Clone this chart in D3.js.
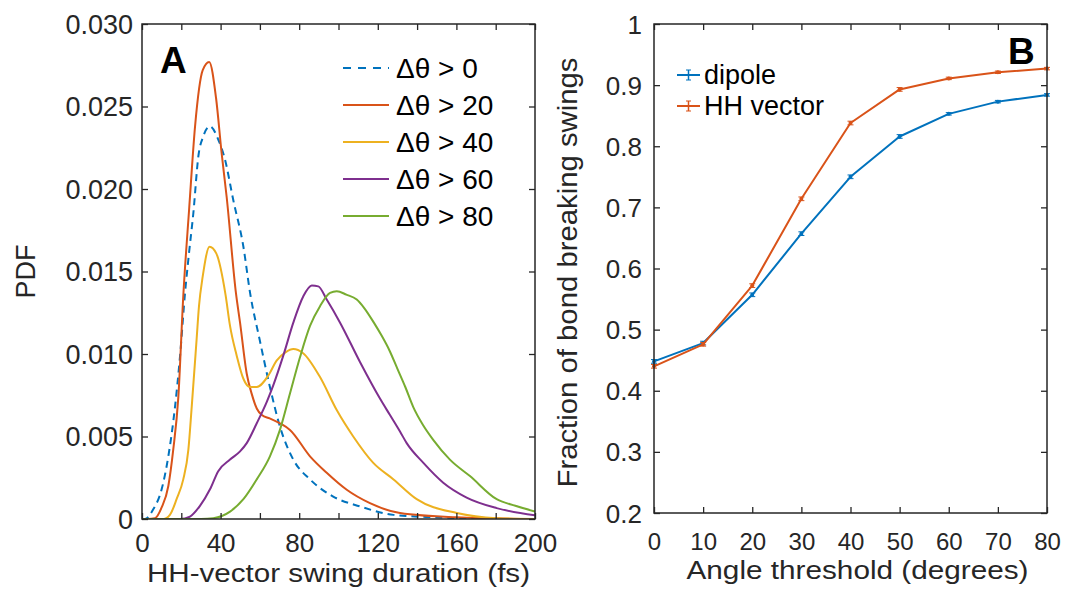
<!DOCTYPE html>
<html>
<head>
<meta charset="utf-8">
<script src="https://cdn.jsdelivr.net/npm/d3@7"></script>
<style>
  html, body { margin: 0; padding: 0; background: #fff; }
  svg { display: block; font-family: "Liberation Sans", Arial, Helvetica, sans-serif; }
</style>
</head>
<body>
<svg id="chart" width="1067" height="589"></svg>
<script>
// ---------------- Data: panel A (PDF of HH-vector swing duration) ----------------
const seriesLabelsA = ["Δθ > 0", "Δθ > 20", "Δθ > 40", "Δθ > 60", "Δθ > 80"];
const pdfGt0 = [[0,0],[1.5,0],[5.8,0.0006],[10,0.0018],[13.4,0.0038],[16.8,0.0068],[19.3,0.0098],[21.9,0.0137],[24,0.0162],[26.1,0.0185],[28.7,0.022],[31.2,0.0232],[34.6,0.0238],[38.8,0.023],[42.2,0.0218],[46.5,0.0193],[51.6,0.0165],[55,0.0137],[60,0.0108],[65.1,0.008],[70.2,0.0056],[77,0.0036],[85.5,0.0024],[97.3,0.00136],[111,0.00076],[128,0.00025],[150,0.0001],[170,0.00002],[200,0]];
const pdfGt20 = [[0,0],[3,0],[6.6,0.00005],[10,0.0007],[13.4,0.002],[15.9,0.0042],[18.5,0.0074],[21,0.0135],[24,0.0188],[27,0.0238],[30.9,0.0272],[34.2,0.0277],[37.7,0.0255],[40.5,0.0222],[43.1,0.0195],[47.8,0.0137],[49.9,0.0119],[53.3,0.0088],[55.8,0.0076],[58.4,0.0067],[61,0.0063],[65,0.0061],[70.2,0.0058],[75.3,0.0054],[85.5,0.0038],[94,0.0028],[104.2,0.00177],[116,0.00096],[131.3,0.00036],[160,0.0001],[200,0]];
const pdfGt40 = [[0,0],[10.9,0],[14.2,0.00025],[17.6,0.0012],[21,0.0024],[23.6,0.0042],[25.3,0.0068],[27.8,0.0109],[29,0.0129],[30.9,0.0147],[34.4,0.0165],[37.8,0.0161],[42.5,0.0136],[44.8,0.0117],[48.2,0.0099],[51.6,0.0085],[55,0.008],[58.4,0.008],[64.3,0.0087],[68.5,0.0096],[73,0.0101],[77,0.0103],[82,0.01005],[90.6,0.0086],[99.1,0.0066],[107.5,0.005],[117.7,0.0034],[128,0.0024],[139.8,0.0012],[160.2,0.00036],[180.5,0.00005],[200,0]];
const pdfGt60 = [[0,0],[19.3,0],[24.4,0.00015],[29.5,0.0008],[34.6,0.0018],[38.8,0.0029],[44.8,0.0036],[49.9,0.0041],[53.3,0.0046],[58.4,0.0058],[63.5,0.0071],[66.8,0.0081],[71.9,0.0099],[77,0.0119],[82.1,0.0135],[86.4,0.01415],[89.7,0.0141],[94,0.0133],[100.8,0.0119],[111,0.0095],[121.1,0.0073],[126.2,0.0063],[131.3,0.0053],[134.7,0.0046],[143.2,0.0034],[153.3,0.0022],[165.2,0.0013],[180.5,0.00066],[200,0.00022]];
const pdfGt80 = [[0,0],[30,0],[36.3,0.00005],[44.8,0.00045],[51.6,0.0012],[58.4,0.0024],[65.1,0.0038],[70.2,0.0054],[75.3,0.0076],[80.4,0.0098],[85.5,0.0117],[90.6,0.0129],[95.7,0.0137],[99.1,0.0138],[104,0.0136],[109.3,0.0133],[113,0.0128],[118,0.0119],[122,0.0111],[126,0.0102],[130,0.0091],[134,0.008],[138,0.0068],[143,0.0057],[148.2,0.0048],[156.7,0.0036],[166.9,0.0026],[180.5,0.0012],[190,0.0008],[200,0.00045]];
const durationTicks = [0,20,40,60,80,100,120,140,160,180,200];
const durationTickLabels = ["0","","40","","80","","120","","160","","200"];
const pdfTicks = [0,0.005,0.010,0.015,0.020,0.025,0.030];
const pdfTickLabels = ["0","0.005","0.010","0.015","0.020","0.025","0.030"];

// ---------------- Data: panel B (fraction of bond breaking swings) ----------------
const angleThresholds = [0,10,20,30,40,50,60,70,80];
const dipoleFraction = [0.448,0.478,0.557,0.657,0.750,0.816,0.853,0.873,0.884];
const hhFraction     = [0.440,0.476,0.572,0.714,0.838,0.893,0.911,0.921,0.927];
const dipoleErr = [0.003,0.003,0.003,0.003,0.003,0.003,0.002,0.002,0.002];
const hhErr     = [0.003,0.003,0.003,0.003,0.003,0.003,0.002,0.002,0.002];
const seriesLabelsB = ["dipole", "HH vector"];
const fractionTicks = [0.2,0.3,0.4,0.5,0.6,0.7,0.8,0.9,1];
const fractionTickLabels = ["0.2","0.3","0.4","0.5","0.6","0.7","0.8","0.9","1"];

// ---------------- Styles ----------------
const colors = ["#0072BD", "#D95319", "#EDB120", "#7E2F8E", "#77AC30"];
const axisColor = "#262626";

const svg = d3.select("#chart");
svg.append("rect").attr("width", 1067).attr("height", 589).attr("fill", "#fff");

// ---------------- Panel A ----------------
const A = { left: 142, right: 535, top: 24, bottom: 519 };
const xA = d3.scaleLinear().domain([0, 200]).range([A.left, A.right]);
const yA = d3.scaleLinear().domain([0, 0.030]).range([A.bottom, A.top]);

svg.append("clipPath").attr("id", "clipA").append("rect")
  .attr("x", A.left).attr("y", A.top - 1).attr("width", A.right - A.left).attr("height", A.bottom - A.top + 1);

const lineA = d3.line().x(d => xA(d[0])).y(d => yA(d[1])).curve(d3.curveMonotoneX);
const seriesA = [pdfGt0, pdfGt20, pdfGt40, pdfGt60, pdfGt80];
const gA = svg.append("g").attr("clip-path", "url(#clipA)");
seriesA.forEach((s, i) => {
  gA.append("path").datum(s).attr("d", lineA)
    .attr("fill", "none").attr("stroke", colors[i]).attr("stroke-width", 2)
    .attr("stroke-linejoin", "round")
    .attr("stroke-dasharray", i === 0 ? "7,5" : null);
});

function boxAxes(x, y, box, xTicks, xLabels, yTicks, yLabels, opt) {
  const g = svg.append("g");
  const tickLen = 6;
  const bottom = d3.axisBottom(x).tickValues(xTicks).tickSizeInner(-tickLen).tickSizeOuter(0)
    .tickFormat((d, i) => xLabels[i]);
  const gb = g.append("g").attr("transform", `translate(0,${box.bottom})`).call(bottom);
  gb.selectAll("text").attr("y", opt.xTickBase - box.bottom).attr("dy", 0)
    .style("font-size", opt.xTickSize + "px");
  const top = d3.axisTop(x).tickValues(xTicks).tickSizeInner(-tickLen).tickSizeOuter(0).tickFormat("");
  g.append("g").attr("transform", `translate(0,${box.top})`).call(top);
  const left = d3.axisLeft(y).tickValues(yTicks).tickSizeInner(-tickLen).tickSizeOuter(0)
    .tickFormat((d, i) => yLabels[i]);
  const gl = g.append("g").attr("transform", `translate(${box.left},0)`).call(left);
  gl.selectAll("text").attr("x", -opt.yTickGap).attr("dy", "0.35em")
    .style("font-size", opt.yTickSize + "px");
  const right = d3.axisRight(y).tickValues(yTicks).tickSizeInner(-tickLen).tickSizeOuter(0).tickFormat("");
  g.append("g").attr("transform", `translate(${box.right},0)`).call(right);
  g.selectAll(".domain").remove();
  g.selectAll("line").attr("stroke", axisColor).attr("stroke-width", 1.3);
  g.selectAll("text").attr("fill", axisColor).style("font-family", "'Liberation Sans', Arial, sans-serif");
  g.append("rect").attr("x", box.left).attr("y", box.top)
    .attr("width", box.right - box.left).attr("height", box.bottom - box.top)
    .attr("fill", "none").attr("stroke", axisColor).attr("stroke-width", 1.5);
}

boxAxes(xA, yA, A, durationTicks, durationTickLabels, pdfTicks, pdfTickLabels,
  { xTickBase: 552, xTickSize: 26, yTickGap: 9, yTickSize: 27 });

svg.append("text").attr("x", (A.left + A.right) / 2).attr("y", 582)
  .attr("text-anchor", "middle").attr("fill", axisColor).style("font-size", "25.5px")
  .attr("textLength", 383).attr("lengthAdjust", "spacingAndGlyphs")
  .text("HH-vector swing duration (fs)");
svg.append("text").attr("transform", `translate(35,${(A.top + A.bottom) / 2}) rotate(-90)`)
  .attr("text-anchor", "middle").attr("fill", axisColor).style("font-size", "27px")
  .text("PDF");

svg.append("text").attr("x", 160).attr("y", 73).attr("font-weight", "bold")
  .style("font-size", "37px").attr("fill", "#000").text("A");

const legA = svg.append("g");
seriesLabelsA.forEach((lab, i) => {
  const cy = 68 + i * 37;
  legA.append("line").attr("x1", 343).attr("x2", 389).attr("y1", cy).attr("y2", cy)
    .attr("stroke", colors[i]).attr("stroke-width", 2)
    .attr("stroke-dasharray", i === 0 ? "8,7" : null);
  legA.append("text").attr("x", 396).attr("y", cy).attr("dy", "0.35em")
    .attr("fill", "#000").style("font-size", "28px").text(lab);
});

// ---------------- Panel B ----------------
const B = { left: 654, right: 1047, top: 24, bottom: 513 };
const xB = d3.scaleLinear().domain([0, 80]).range([B.left, B.right]);
const yB = d3.scaleLinear().domain([0.2, 1]).range([B.bottom, B.top]);

const lineB = d3.line().x(d => xB(d.x)).y(d => yB(d.y));
const seriesB = [
  angleThresholds.map((a, i) => ({ x: a, y: dipoleFraction[i], e: dipoleErr[i] })),
  angleThresholds.map((a, i) => ({ x: a, y: hhFraction[i], e: hhErr[i] }))
];
const gB = svg.append("g");
seriesB.forEach((s, k) => {
  const c = colors[k];
  gB.append("path").datum(s).attr("d", lineB).attr("fill", "none")
    .attr("stroke", c).attr("stroke-width", 2).attr("stroke-linejoin", "round");
  const eb = gB.append("g").selectAll("g").data(s).join("g");
  eb.append("line").attr("x1", d => xB(d.x)).attr("x2", d => xB(d.x))
    .attr("y1", d => yB(d.y - d.e)).attr("y2", d => yB(d.y + d.e))
    .attr("stroke", c).attr("stroke-width", 1.5);
  eb.append("line").attr("x1", d => xB(d.x) - 3).attr("x2", d => xB(d.x) + 3)
    .attr("y1", d => yB(d.y + d.e)).attr("y2", d => yB(d.y + d.e)).attr("stroke", c).attr("stroke-width", 1);
  eb.append("line").attr("x1", d => xB(d.x) - 3).attr("x2", d => xB(d.x) + 3)
    .attr("y1", d => yB(d.y - d.e)).attr("y2", d => yB(d.y - d.e)).attr("stroke", c).attr("stroke-width", 1);
  eb.append("circle").attr("cx", d => xB(d.x)).attr("cy", d => yB(d.y)).attr("r", 2).attr("fill", c);
});

boxAxes(xB, yB, B, angleThresholds, angleThresholds.map(String), fractionTicks, fractionTickLabels,
  { xTickBase: 550, xTickSize: 24, yTickGap: 12, yTickSize: 26 });

svg.append("text").attr("x", (B.left + B.right) / 2 + 7).attr("y", 579)
  .attr("text-anchor", "middle").attr("fill", axisColor).style("font-size", "25px")
  .attr("textLength", 342).attr("lengthAdjust", "spacingAndGlyphs")
  .text("Angle threshold (degrees)");
svg.append("text").attr("transform", `translate(577,${(B.top + B.bottom) / 2 + 4}) rotate(-90)`)
  .attr("text-anchor", "middle").attr("fill", axisColor).style("font-size", "27px")
  .attr("textLength", 430).attr("lengthAdjust", "spacingAndGlyphs")
  .text("Fraction of bond breaking swings");

svg.append("text").attr("x", 1008).attr("y", 64).attr("font-weight", "bold")
  .style("font-size", "37px").attr("fill", "#000").text("B");

const legB = svg.append("g");
seriesLabelsB.forEach((lab, i) => {
  const cy = 75 + i * 31;
  const c = colors[i];
  legB.append("line").attr("x1", 677).attr("x2", 700).attr("y1", cy).attr("y2", cy)
    .attr("stroke", c).attr("stroke-width", 2);
  legB.append("line").attr("x1", 688.5).attr("x2", 688.5).attr("y1", cy - 5).attr("y2", cy + 5)
    .attr("stroke", c).attr("stroke-width", 1.5);
  legB.append("line").attr("x1", 686).attr("x2", 691).attr("y1", cy - 5).attr("y2", cy - 5)
    .attr("stroke", c).attr("stroke-width", 1);
  legB.append("line").attr("x1", 686).attr("x2", 691).attr("y1", cy + 5).attr("y2", cy + 5)
    .attr("stroke", c).attr("stroke-width", 1);
  legB.append("text").attr("x", 704).attr("y", cy).attr("dy", "0.35em")
    .attr("fill", "#000").style("font-size", "27px").text(lab);
});
</script>
</body>
</html>
